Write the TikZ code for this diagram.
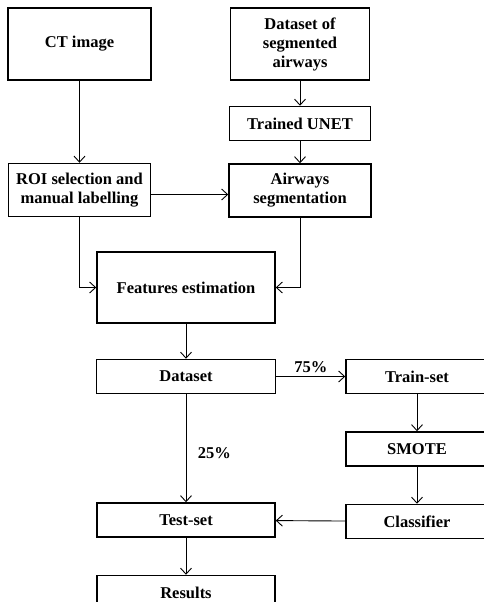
\documentclass[tikz,border=0pt]{standalone}
\usepackage{fontspec}
\setmainfont{Liberation Serif}
\usetikzlibrary{positioning,arrows.meta}

\begin{document}
\begin{tikzpicture}[x=1pt,y=-1pt,
        box/.style={draw,line width=1.5pt,align=center,inner sep=2pt,
            font=\fontsize{16.5}{19}\selectfont\bfseries},
        flow/.style={line width=0.9pt,-{Straight Barb[length=6pt,width=11pt]}},
        pct/.style={font=\fontsize{16.5}{19}\selectfont\bfseries}]
        \useasboundingbox (0,0) rectangle (483,602);
        \node [box,minimum width=143pt,minimum height=72pt] (ct) at (79.5,44) {CT image};
        \node [box,minimum width=139pt,minimum height=72pt,right=78pt of ct] (dsa) {Dataset of\\segmented\\airways};
        \node [box,minimum width=141pt,minimum height=34pt,below=25pt of dsa] (unet) {Trained UNET};
        \node [box,minimum width=142pt,minimum height=53pt,below=22pt of unet] (seg) {Airways\\segmentation};
        \node [box,minimum width=142pt,minimum height=53pt,below=82pt of ct] (roi) {ROI selection and\\manual labelling};
        \node [box,minimum width=178pt,minimum height=71pt] (feat) at (186,287.5) {Features estimation};
        \node [box,minimum width=179pt,minimum height=34pt,below=35pt of feat] (data) {Dataset};
        \node [box,minimum width=142pt,minimum height=34pt,right=69pt of data] (train) {Train-set};
        \node [box,minimum width=142pt,minimum height=34pt,below=37pt of train] (smote) {SMOTE};
        \node [box,minimum width=142pt,minimum height=34pt,below=37pt of smote] (clf) {Classifier};
        \node [box,minimum width=178pt,minimum height=34pt,below=108pt of data] (test) {Test-set};
        \node [box,minimum width=178pt,minimum height=34pt,below=37pt of test] (res) {Results};
        \coordinate (roiout) at ([yshift=-4.5pt]roi.east);

        \draw [flow] (ct) -- (roi);
        \draw [flow] (dsa) -- (unet);
        \draw [flow] (unet) -- (seg);
        \draw [flow] (roiout) -- (roiout -| seg.west);
        \draw [flow] (roi.south) |- (feat.west);
        \draw [flow] (seg.south) |- (feat.east);
        \draw [flow] (feat) -- (data);
        \draw [flow] (data) -- node [pct,above] {75\%} (train);
        \draw [flow] (data) -- node [pct,right=8pt,yshift=-5pt] {25\%} (test);
        \draw [flow] (train) -- (smote);
        \draw [flow] (smote) -- (clf);
        \draw [flow] (clf) -- (test);
        \draw [flow] (test) -- (res);
    \end{tikzpicture}
\end{document}
